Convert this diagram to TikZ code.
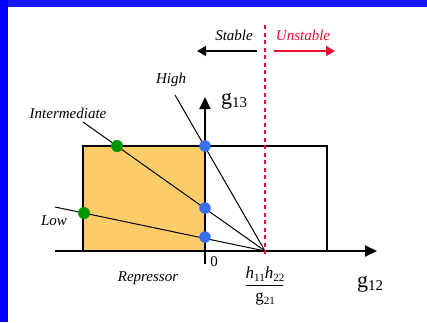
\documentclass[tikz,border=0pt]{standalone}
\usepackage{fontspec}
\setmainfont{Liberation Serif}
\usetikzlibrary{arrows.meta}
\definecolor{bordblue}{RGB}{0,0,255}
\definecolor{topblue}{RGB}{24,24,250}
\definecolor{fillorange}{RGB}{252,204,104}
\definecolor{dotgreen}{RGB}{0,150,0}
\definecolor{dotblue}{RGB}{58,112,240}
\definecolor{redline}{RGB}{235,10,50}
\newcommand{\sbsc}[2]{\raisebox{-0.35ex}{\fontsize{#2}{#2}\selectfont\upshape #1}}
\begin{document}
\begin{tikzpicture}[x=1pt,y=-1pt,
  lbl/.style={font=\fontsize{15}{18}\selectfont\itshape, inner sep=0pt},
  var/.style={font=\fontsize{22}{24}\selectfont, inner sep=0pt},
  dotg/.style={circle, fill=dotgreen, minimum size=12pt, inner sep=0pt},
  dotb/.style={circle, fill=dotblue, minimum size=11.5pt, inner sep=0pt},
  axis/.style={line width=2pt, -{Triangle[length=12pt,width=11pt]}},
  ray/.style={line width=1pt},
  box/.style={line width=1.5pt},
  dir/.style={line width=1.2pt, -{Triangle[length=9pt,width=10pt]}},
  bound/.style={draw=redline, line width=1.3pt, dash pattern=on 4pt off 3.5pt}]
\useasboundingbox (0,0) rectangle (427,322);
\fill[white] (0,0) rectangle (427,322);
\fill[topblue] (0,0) rectangle (427,7);
\fill[bordblue] (0,0) rectangle (8,322);
% coordinates
\coordinate (P) at (265,251);
\coordinate (hiEnd) at (175,95);
\coordinate (imEnd) at (83,122);
\coordinate (loEnd) at (55,207);
\coordinate (xs) at (55,251);
\coordinate (xe) at (377,251);
\coordinate (ys) at (205,264);
\coordinate (ye) at (205,97);
\coordinate (dTop) at (265,25);
\coordinate (dBot) at (265,256);
% region
\fill[fillorange] (83,146) rectangle (205,251);
\draw[box] (83,146) rectangle (327,251);
% rays
\draw[ray] (P) -- (hiEnd);
\draw[ray] (P) -- (imEnd);
\draw[ray] (P) -- (loEnd);
% axes
\draw[axis] (xs) -- (xe);
\draw[axis] (ys) -- (ye);
% dashed boundary
\draw[bound] (dTop) -- (dBot);
% dots
\node[dotb] (b1) at (205,146) {};
\node[dotb] (b2) at (205,208) {};
\node[dotb] (b3) at (205,237) {};
\node[dotg] (g1) at (117,146) {};
\node[dotg] (g2) at (84,213) {};
% stable / unstable
\node[lbl] (st) at (234,35) {Stable};
\node[lbl, text=redline] (us) at (303,35) {Unstable};
\coordinate (sa) at (257,51);
\coordinate (sb) at (197,51);
\coordinate (ua) at (274,51);
\coordinate (ub) at (335,51);
\draw[dir] (sa) -- (sb);
\draw[dir, draw=redline, fill=redline] (ua) -- (ub);
% labels
\node[lbl] (hi) at (171,80) {High};
\node[lbl] (im) at (68,113) {Intermediate};
\node[lbl] (lo) at (54,221) {Low};
\node[lbl] (rep) at (148,278) {Repressor};
\node[font=\fontsize{15}{18}\selectfont, inner sep=0pt] (zero) at (214,262) {0};
\node[var, anchor=west] (g13) at (221,101) {g\sbsc{13}{15}};
\node[var, anchor=west] (g12) at (357,284) {g\sbsc{12}{15}};
% fraction
\node[font=\fontsize{17}{18}\selectfont\itshape, inner sep=0pt] (num) at (265,274) {h\sbsc{11}{11}h\sbsc{22}{11}};
\node[font=\fontsize{17}{18}\selectfont, inner sep=0pt] (den) at (265,299) {g\sbsc{21}{11}};
\coordinate (fl) at (246,285);
\coordinate (fr) at (283,285);
\draw[line width=1pt] (fl) -- (fr);
\end{tikzpicture}
\end{document}
